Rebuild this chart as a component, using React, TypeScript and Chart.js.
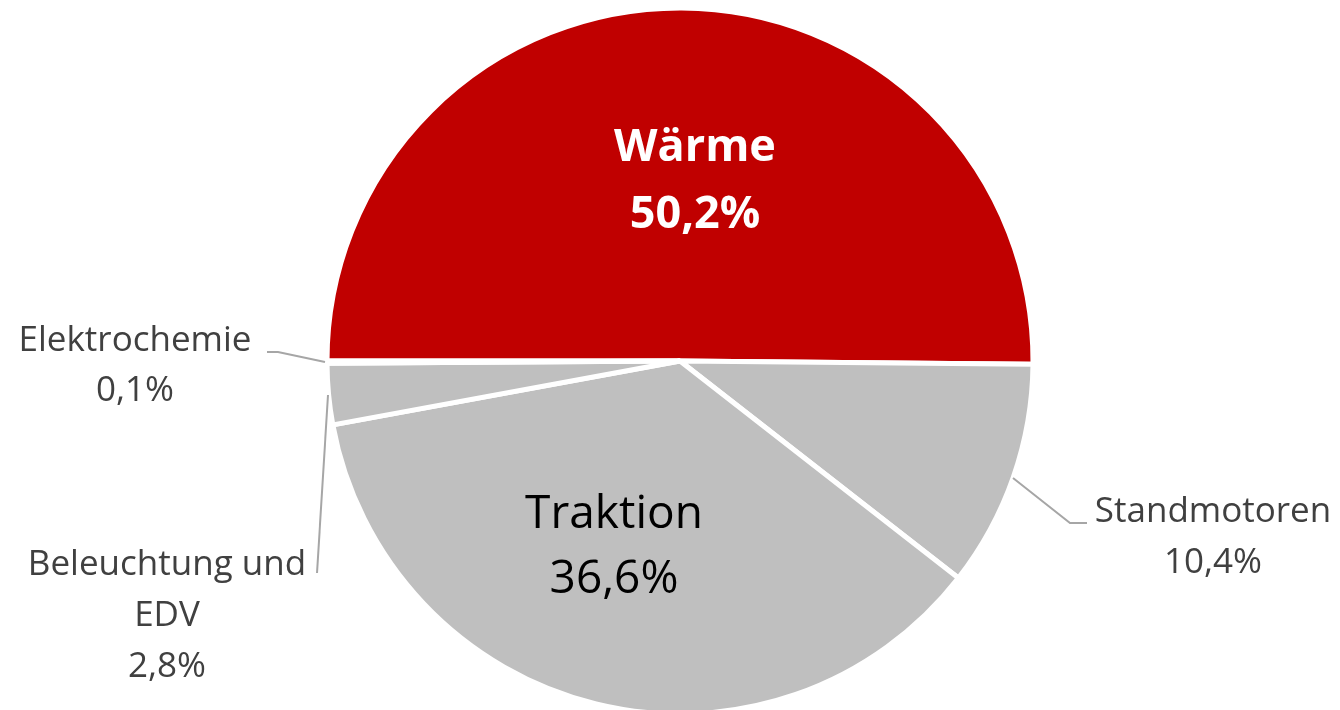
import React, { useEffect, useRef } from "react";
import { Chart, registerables } from "chart.js";

Chart.register(...registerables);

const categories = ["Wärme", "Standmotoren", "Traktion", "Beleuchtung und EDV", "Elektrochemie"];
const values = [50.2, 10.4, 36.6, 2.8, 0.1];
const valueLabels = ["50,2%", "10,4%", "36,6%", "2,8%", "0,1%"];
const colors = ["#C00000", "#BFBFBF", "#BFBFBF", "#BFBFBF", "#BFBFBF"];

const FONT = "'Open Sans', 'Noto Sans', sans-serif";

// label layout in px relative to pie centre (scaled by radius / 353)
const labelLayout: any[] = [
  { lines: ["Wärme", "50,2%"], x: 15, y: -200, lh: 67, size: 45, weight: "bold", color: "#FFFFFF" },
  { lines: ["Standmotoren", "10,4%"], x: 533, y: 161, lh: 51, size: 35, weight: "normal", color: "#404040",
    leader: [[333, 117], [390, 162], [407, 162]] },
  { lines: ["Traktion", "36,6%"], x: -66, y: 167, lh: 65, size: 46, weight: "normal", color: "#000000" },
  { lines: ["Beleuchtung und", "EDV", "2,8%"], x: -513, y: 214, lh: 51, size: 35, weight: "normal", color: "#404040",
    leader: [[-352, 34], [-363, 212]] },
  { lines: ["Elektrochemie", "0,1%"], x: -545, y: -10, lh: 50, size: 35, weight: "normal", color: "#404040",
    leader: [[-413, -9], [-402, -9], [-355, 1]] },
];

const labelPlugin = {
  id: "pieLabels",
  afterDatasetsDraw(chart: any) {
    const ctx = chart.ctx;
    const meta = chart.getDatasetMeta(0);
    const arc0 = meta.data[0];
    const cx = arc0.x;
    const cy = arc0.y;
    const k = arc0.outerRadius / 353;
    ctx.save();
    labelLayout.forEach((l, i) => {
      if (!meta.data[i]) return;
      if (l.leader) {
        ctx.beginPath();
        ctx.strokeStyle = "#A6A6A6";
        ctx.lineWidth = 2;
        l.leader.forEach((p: number[], j: number) => {
          const px = cx + p[0] * k;
          const py = cy + p[1] * k;
          if (j === 0) ctx.moveTo(px, py);
          else ctx.lineTo(px, py);
        });
        ctx.stroke();
      }
      ctx.fillStyle = l.color;
      ctx.font = `${l.weight} ${l.size}px ${FONT}`;
      ctx.textAlign = "center";
      ctx.textBaseline = "alphabetic";
      l.lines.forEach((t: string, j: number) => {
        ctx.fillText(t, cx + l.x * k, cy + (l.y + j * l.lh) * k);
      });
    });
    ctx.restore();
  },
};

export default function App() {
  const ref = useRef<HTMLCanvasElement>(null);
  useEffect(() => {
    document.body.style.margin = "0";
    const chart = new Chart(ref.current!, {
      type: "pie",
      data: {
        labels: categories,
        datasets: [
          {
            data: values,
            backgroundColor: colors,
            borderColor: "#FFFFFF",
            borderWidth: 5,
            hoverOffset: 0,
          },
        ],
      },
      options: {
        responsive: false,
        animation: false,
        rotation: -90,
        radius: 353,
        layout: { padding: { top: 12, bottom: 0, left: 20, right: 0 } },
        plugins: {
          legend: { display: false },
          tooltip: { enabled: false },
        },
      },
      plugins: [labelPlugin],
    });
    return () => chart.destroy();
  }, []);
  return (
    <div style={{ position: "absolute", left: 0, top: 0, width: 1340, height: 710, background: "#fff" }}>
      <canvas ref={ref} width={1340} height={710} />
    </div>
  );
}
